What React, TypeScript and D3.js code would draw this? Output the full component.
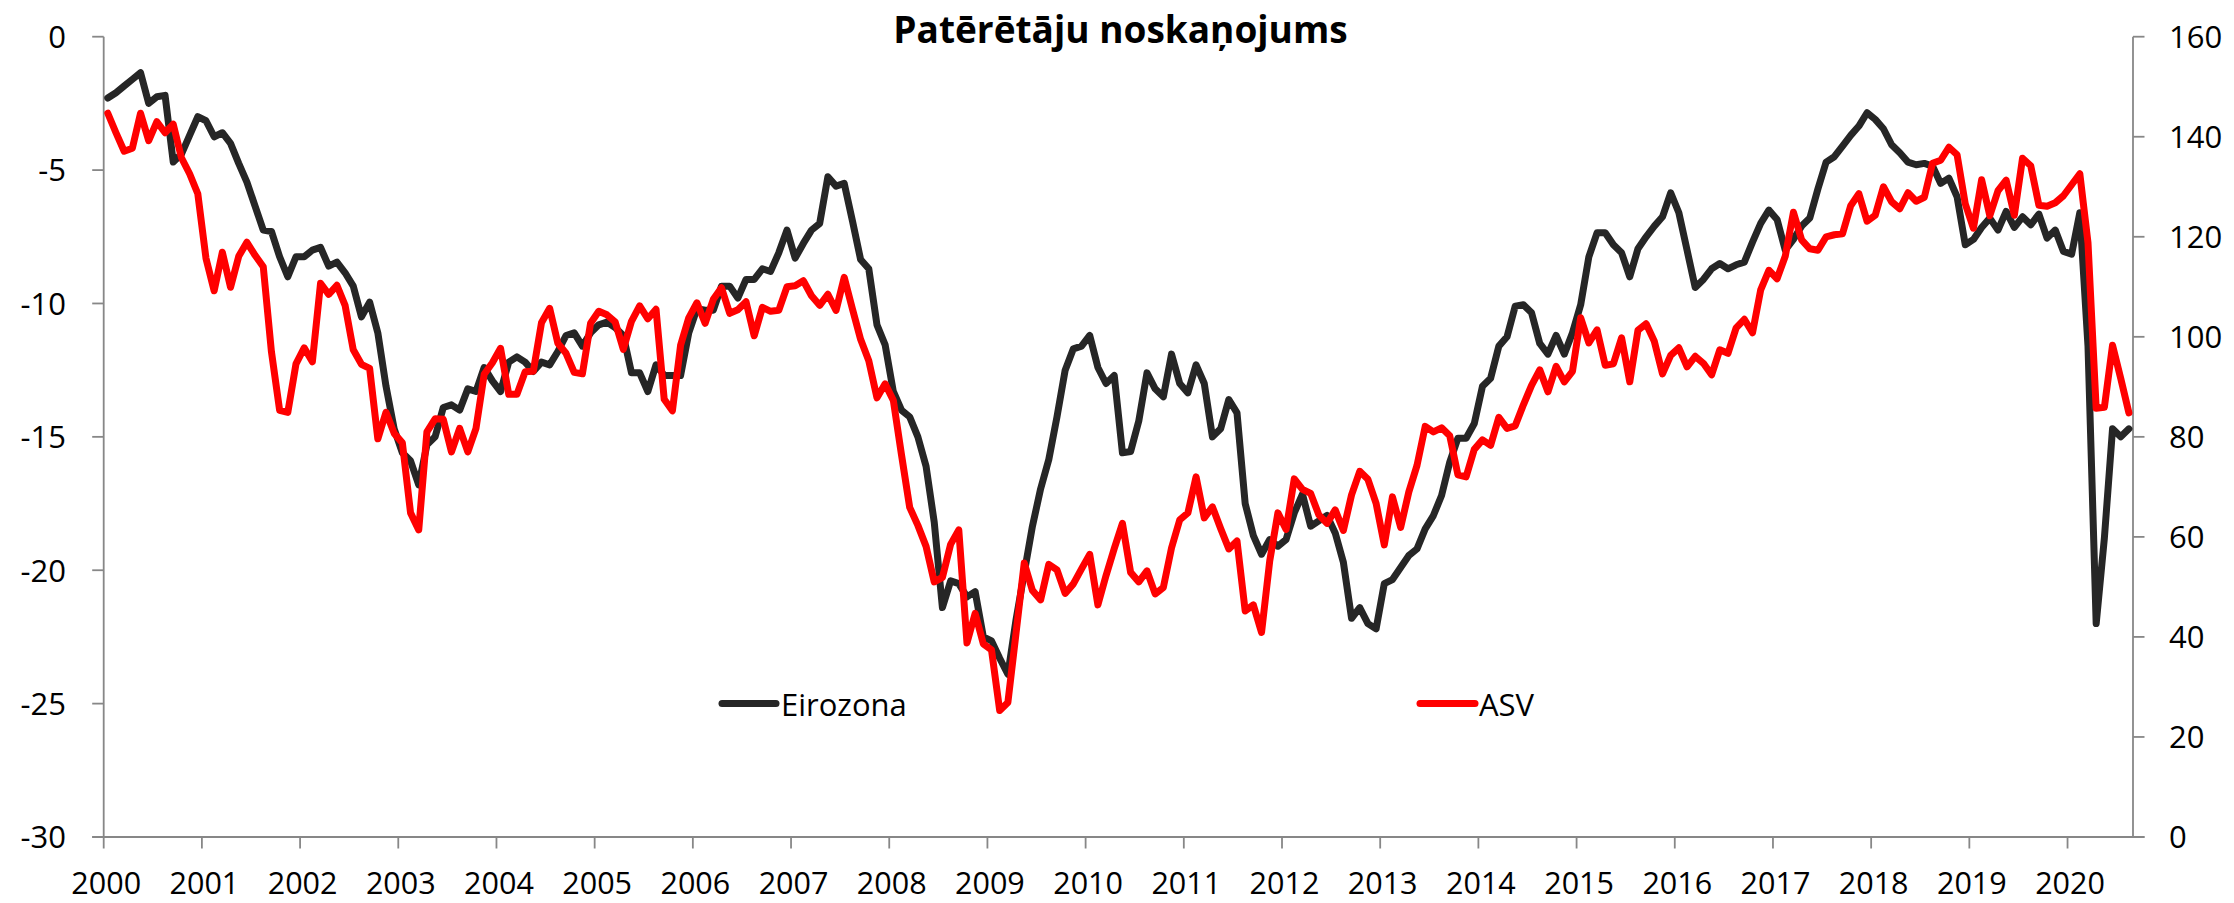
import React from 'react';
import * as d3 from 'd3';

const TITLE = 'Patērētāju noskaņojums';
const YEARS = ['2000','2001','2002','2003','2004','2005','2006','2007','2008','2009','2010','2011','2012','2013','2014','2015','2016','2017','2018','2019','2020'];
const LEFT_TICKS = [0, -5, -10, -15, -20, -25, -30];
const RIGHT_TICKS = [0, 20, 40, 60, 80, 100, 120, 140, 160];
const SERIES_NAMES = ['Eirozona', 'ASV'];

// Eirozona (left axis), monthly Jan 2000 – Aug 2020
const EIROZONA = [
  -2.3, -2.1, -1.85, -1.6, -1.35, -2.5, -2.25, -2.2, -4.7, -4.4, -3.7, -3.0,
  -3.15, -3.75, -3.6, -4.0, -4.75, -5.45, -6.35, -7.25, -7.3, -8.25, -9.0, -8.25,
  -8.25, -8.0, -7.9, -8.6, -8.45, -8.85, -9.35, -10.5, -9.95, -11.1, -13.1, -14.7,
  -15.6, -15.9, -16.8, -15.3, -15.0, -13.9, -13.8, -14.0, -13.2, -13.3, -12.4, -12.9,
  -13.3, -12.2, -12.0, -12.2, -12.55, -12.2, -12.3, -11.8, -11.2, -11.1, -11.6, -11.1,
  -10.8, -10.7, -10.9, -11.2, -12.6, -12.6, -13.3, -12.3, -12.7, -12.7, -12.7, -11.1,
  -10.2, -10.25, -10.25, -9.35, -9.35, -9.8, -9.1, -9.1, -8.7, -8.8, -8.1, -7.25,
  -8.3, -7.75, -7.25, -7.0, -5.25, -5.6, -5.5, -6.9, -8.35, -8.7, -10.8, -11.55,
  -13.3, -14.0, -14.25, -15.0, -16.1, -18.2, -21.4, -20.4, -20.5, -21.0, -20.8, -22.5,
  -22.65, -23.3, -23.9, -21.85, -20.1, -18.35, -16.95, -15.85, -14.25, -12.5, -11.7, -11.6,
  -11.2, -12.4, -13.0, -12.7, -15.6, -15.55, -14.4, -12.6, -13.2, -13.5, -11.9, -13.0,
  -13.35, -12.3, -13.0, -15.0, -14.7, -13.6, -14.1, -17.5, -18.7, -19.4, -18.85, -19.1,
  -18.85, -17.85, -17.15, -18.35, -18.15, -17.95, -18.6, -19.7, -21.8, -21.4, -22.0, -22.2,
  -20.5, -20.35, -19.9, -19.45, -19.2, -18.45, -17.95, -17.2, -15.95, -15.05, -15.05, -14.5,
  -13.1, -12.8, -11.6, -11.25, -10.1, -10.05, -10.35, -11.5, -11.9, -11.2, -11.9, -11.1,
  -10.05, -8.25, -7.35, -7.35, -7.8, -8.1, -9.0, -7.95, -7.5, -7.1, -6.75, -5.85,
  -6.6, -8.0, -9.4, -9.1, -8.7, -8.5, -8.7, -8.55, -8.45, -7.7, -7.0, -6.5,
  -6.85, -8.0, -7.6, -7.1, -6.8, -5.7, -4.7, -4.5, -4.1, -3.7, -3.35, -2.85,
  -3.1, -3.45, -4.05, -4.35, -4.7, -4.8, -4.75, -4.85, -5.5, -5.3, -6.0, -7.8,
  -7.6, -7.15, -6.8, -7.25, -6.55, -7.15, -6.75, -7.05, -6.65, -7.55, -7.25, -8.05,
  -8.15, -6.6, -11.6, -22.0, -18.8, -14.7, -15.0, -14.7,
];

// ASV (right axis), monthly Jan 2000 – Aug 2020
const ASV = [
  144.7, 140.8, 137.1, 137.7, 144.7, 139.2, 143.0, 140.8, 142.5, 135.8, 132.6, 128.6,
  115.7, 109.2, 116.9, 109.9, 116.1, 118.9, 116.3, 114.0, 97.0, 85.3, 84.9, 94.6,
  97.8, 95.0, 110.7, 108.5, 110.3, 106.3, 97.4, 94.5, 93.7, 79.6, 84.9, 80.7,
  78.8, 64.8, 61.4, 81.0, 83.6, 83.5, 77.0, 81.7, 77.0, 81.7, 92.5, 94.8,
  97.7, 88.5, 88.5, 93.0, 93.1, 102.8, 105.7, 98.7, 96.7, 92.9, 92.6, 102.7,
  105.1, 104.4, 103.0, 97.5, 103.1, 106.2, 103.6, 105.5, 87.5, 85.2, 98.3, 103.8,
  106.8, 102.7, 107.5, 109.8, 104.7, 105.4, 107.0, 100.2, 105.9, 105.1, 105.3, 110.0,
  110.2, 111.2, 108.2, 106.3, 108.5, 105.3, 111.9, 105.6, 99.5, 95.2, 87.8, 90.6,
  87.3, 76.4, 65.9, 62.3, 58.1, 51.0, 51.9, 58.5, 61.4, 38.8, 44.7, 38.6,
  37.4, 25.3, 26.9, 40.8, 54.8, 49.3, 47.4, 54.5, 53.4, 48.7, 50.6, 53.6,
  56.5, 46.4, 52.3, 57.7, 62.7, 52.9, 51.0, 53.2, 48.6, 49.9, 57.8, 63.4,
  64.8, 72.0, 63.8, 66.0, 61.7, 57.6, 59.2, 45.2, 46.4, 40.9, 55.2, 64.8,
  61.5, 71.6, 69.5, 68.7, 64.4, 62.7, 65.4, 61.3, 68.4, 73.1, 71.5, 66.7,
  58.4, 68.0, 61.9, 69.0, 74.3, 82.1, 81.0, 81.8, 80.2, 72.4, 72.0, 77.5,
  79.4, 78.3, 83.9, 81.7, 82.2, 86.4, 90.3, 93.4, 89.0, 94.1, 91.0, 93.1,
  103.8, 98.8, 101.4, 94.3, 94.6, 99.8, 91.0, 101.3, 102.6, 99.1, 92.6, 96.3,
  97.8, 94.0, 96.1, 94.7, 92.4, 97.4, 96.7, 101.8, 103.5, 100.8, 109.4, 113.3,
  111.6, 116.1, 124.9, 119.4, 117.6, 117.3, 120.0, 120.4, 120.6, 126.2, 128.6, 123.1,
  124.3, 130.0, 127.0, 125.6, 128.8, 127.1, 127.9, 134.7, 135.3, 137.9, 136.4, 126.6,
  121.7, 131.4, 124.2, 129.2, 131.3, 124.3, 135.7, 134.2, 126.3, 126.1, 126.8, 128.2,
  130.4, 132.6, 118.8, 85.7, 85.9, 98.3, 91.7, 84.8,
];

const W = 2234;
const H = 903;
const LEFT = 103.7;
const RIGHT = 2133;
const TOP = 36.7;
const BOTTOM = 837;
const FONT = "'Open Sans', sans-serif";
const AXIS = '#878787';
const BLACK = '#262626';
const RED = '#FF0000';
const LW = 7;

export default function App() {
  const n = EIROZONA.length;
  const x = d3.scaleLinear().domain([0, n]).range([LEFT, RIGHT]);
  const yL = d3.scaleLinear().domain([-30, 0]).range([BOTTOM, TOP]);
  const yR = d3.scaleLinear().domain([0, 160]).range([BOTTOM, TOP]);

  const lineL = d3.line<number>().x((_, i) => x(i + 0.5)).y((d) => yL(d));
  const lineR = d3.line<number>().x((_, i) => x(i + 0.5)).y((d) => yR(d));

  return (
    <svg
      width={W}
      height={H}
      viewBox={`0 0 ${W} ${H}`}
      style={{ position: 'absolute', left: 0, top: 0, display: 'block', background: '#fff' }}
      fontFamily={FONT}
    >
      <rect x={0} y={0} width={W} height={H} fill="#fff" />
      {/* title */}
      <text x={1120.5} y={43} textAnchor="middle" fontSize={37} fontWeight={700} fill="#000">
        {TITLE}
      </text>

      {/* axes */}
      <line x1={LEFT} x2={LEFT} y1={TOP} y2={BOTTOM} stroke={AXIS} strokeWidth={1.8} />
      <line x1={RIGHT} x2={RIGHT} y1={TOP} y2={BOTTOM} stroke={AXIS} strokeWidth={1.8} />
      <line x1={LEFT - 11.5} x2={RIGHT + 11.5} y1={BOTTOM} y2={BOTTOM} stroke={AXIS} strokeWidth={1.8} />

      {LEFT_TICKS.map((t) => (
        <g key={'l' + t}>
          <line x1={LEFT - 11.5} x2={LEFT} y1={yL(t)} y2={yL(t)} stroke={AXIS} strokeWidth={1.8} />
          <text x={66} y={yL(t) + 11.3} textAnchor="end" fontSize={31} fill="#000">
            {t}
          </text>
        </g>
      ))}
      {RIGHT_TICKS.map((t) => (
        <g key={'r' + t}>
          <line x1={RIGHT} x2={RIGHT + 11.5} y1={yR(t)} y2={yR(t)} stroke={AXIS} strokeWidth={1.8} />
          <text x={2169} y={yR(t) + 11.3} textAnchor="start" fontSize={31} fill="#000">
            {t}
          </text>
        </g>
      ))}
      {YEARS.map((yr, k) => {
        const px = x(k * 12);
        return (
          <g key={yr}>
            <line x1={px} x2={px} y1={BOTTOM} y2={BOTTOM + 11.5} stroke={AXIS} strokeWidth={1.8} />
            <text x={px + 2.5} y={894} textAnchor="middle" fontSize={30.5} fill="#000">
              {yr}
            </text>
          </g>
        );
      })}

      {/* series */}
      <path d={lineL(EIROZONA) || ''} fill="none" stroke={BLACK} strokeWidth={LW} strokeLinejoin="round" strokeLinecap="round" />
      <path d={lineR(ASV) || ''} fill="none" stroke={RED} strokeWidth={LW} strokeLinejoin="round" strokeLinecap="round" />

      {/* legend */}
      <line x1={722} x2={776} y1={703.5} y2={703.5} stroke={BLACK} strokeWidth={LW} strokeLinecap="round" />
      <text x={781} y={716} fontSize={31} fill="#000">{SERIES_NAMES[0]}</text>
      <line x1={1420} x2={1475} y1={703.5} y2={703.5} stroke={RED} strokeWidth={LW} strokeLinecap="round" />
      <text x={1479} y={716} fontSize={31} fill="#000">{SERIES_NAMES[1]}</text>
    </svg>
  );
}
